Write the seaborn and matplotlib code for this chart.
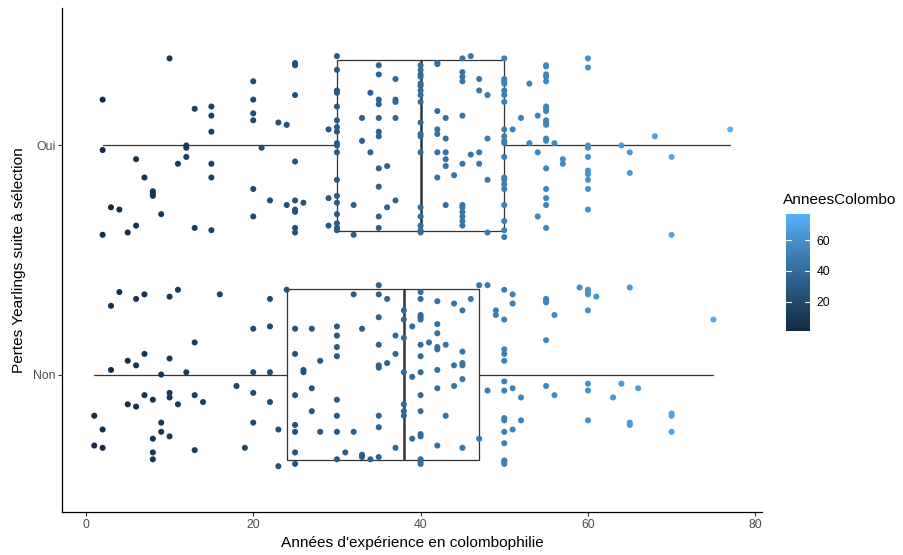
import numpy as np
import pandas as pd
import matplotlib
matplotlib.use("Agg")
import matplotlib.pyplot as plt
import seaborn as sns
from matplotlib.colors import ListedColormap, Normalize
from matplotlib.cm import ScalarMappable

# ---------------- data ----------------
categories = ["Oui", "Non"]

oui_years = [10, 2, 2, 6, 7, 8, 8, 8, 3, 4, 2, 5, 6, 9, 11, 12, 12, 12, 13, 15,
             15, 15, 15, 15, 13, 15, 20, 20, 20, 20, 21, 20, 20, 22, 23, 24, 24, 25, 26, 25,
             25, 25, 25, 25, 25, 25, 25, 29, 29, 29,
             30, 30, 30, 30, 30, 30, 30, 30, 30, 30, 30, 30, 30, 30, 30, 30, 30, 30,
             32, 32, 33, 33, 34, 34,
             35, 35, 35, 35, 35, 35, 35, 35, 35, 35, 35,
             36, 36, 37, 37, 37, 37, 37,
             40, 40, 40, 40, 40, 40, 40, 40, 40, 40, 40, 40, 40, 40, 40, 40, 40, 40,
             42, 42, 42, 42, 42, 42, 42,
             43, 43, 43, 43, 43, 43, 44,
             45, 45, 45, 45, 45, 45, 45, 45, 45, 45, 45, 45,
             46, 46, 47, 47, 47, 47, 48, 48, 48, 48,
             50, 50, 50, 50, 50, 50, 50, 50, 50, 50, 50, 50, 50, 50, 50, 50, 50, 50, 50, 50,
             51, 52, 53, 53, 54, 54, 54,
             55, 55, 55, 55, 55, 55, 55, 55, 55, 55, 55, 55, 55, 55, 55, 55, 55, 55,
             56, 57, 57,
             60, 60, 60, 60, 60, 60, 60, 60, 60, 60,
             64, 65, 65, 68, 70, 70, 77]
oui_jitter = [-0.38, -0.20, 0.02, 0.06, 0.14, 0.20, 0.21, 0.22, 0.27, 0.28,
              0.39, 0.38, 0.35, 0.30, 0.08, 0.00, 0.01, 0.05, -0.16, -0.17,
              -0.13, -0.06, 0.08, 0.14, 0.36, 0.37, -0.28, -0.20, -0.14, -0.11,
              0.01, 0.19, 0.31, 0.24, -0.10, -0.09, 0.26, 0.24, 0.25, 0.28,
              0.29, -0.36, -0.35, -0.22, 0.07, 0.36, 0.38, -0.07, 0.23, 0.35,
              -0.39, -0.33, -0.24, -0.23, -0.17, -0.11, -0.08, -0.06, -0.01, 0.00,
              0.03, 0.15, 0.22, 0.25, 0.30, 0.34, 0.36, 0.37,
              0.26, 0.39, -0.12, -0.02, -0.23, 0.03,
              -0.35, -0.31, -0.20, -0.18, -0.12, -0.06, -0.04, 0.10, 0.18, 0.31, 0.36,
              0.09, 0.27, 0.24, -0.29, -0.20, -0.19, -0.12,
              -0.35, -0.33, -0.31, -0.30, -0.27, -0.26, -0.24, -0.22, -0.19, -0.10,
              -0.05, -0.04, 0.03, 0.27, 0.31, 0.35, 0.37, 0.38,
              -0.36, -0.355, -0.15, -0.07, -0.05, 0.03, 0.14,
              -0.12, -0.03, 0.03, 0.06, 0.09, 0.26, 0.13,
              -0.38, -0.32, -0.30, -0.28, -0.13, 0.08, 0.26, 0.27, 0.29, 0.31, 0.33, 0.35,
              -0.39, 0.04, -0.29, -0.24, 0.03, 0.08, -0.22, -0.03, 0.15, 0.38,
              -0.38, -0.29, -0.28, -0.27, -0.24, -0.22, -0.19, -0.07, -0.04, -0.02,
              -0.01, 0.05, 0.14, 0.15, 0.17, 0.19, 0.26, 0.33, 0.37, 0.40,
              -0.07, -0.12, -0.27, -0.01, -0.13, 0.03, 0.31,
              -0.35, -0.345, -0.31, -0.30, -0.28, -0.17, -0.16, -0.15, -0.11, -0.10,
              -0.09, -0.03, -0.02, 0.10, 0.19, 0.23, 0.26, 0.36,
              -0.01, 0.06, 0.08,
              -0.38, -0.34, 0.00, 0.01, 0.05, 0.11, 0.125, 0.15, 0.19, 0.28,
              0.00, 0.03, 0.12, -0.04, 0.05, 0.39, -0.07]

non_years = [4, 3, 6, 7, 10, 11, 16, 22, 24, 20, 22, 13, 5, 6, 7, 10, 3, 9, 12, 20,
             22, 18, 7, 8, 10, 10, 13, 5, 6, 11, 14, 20, 22, 1, 2, 1, 2, 9, 9, 10,
             8, 8, 8, 13, 19, 20, 23, 23,
             25, 25, 25, 25, 25, 25, 25, 26, 26, 27, 27, 27, 28, 28,
             30, 30, 30, 30, 30, 30, 30, 30, 31, 32, 32, 33, 33, 33, 34,
             35, 35, 35, 35, 35, 35, 35, 35, 35, 36, 36, 37, 37, 37,
             38, 38, 38, 38, 38, 38, 38, 39, 39, 39,
             40, 40, 40, 40, 40, 40, 40, 40, 40, 40, 40, 40, 40, 40, 40,
             41, 42, 42, 42, 42, 42, 42, 42, 42, 43, 43, 44, 44, 44,
             45, 45, 45, 45, 45, 45, 46, 47, 47, 48, 48, 49, 49,
             50, 50, 50, 50, 50, 50, 50, 50, 50, 50, 50, 50, 50, 50,
             51, 51, 51, 51, 52, 52, 55, 55, 55, 55, 55, 56, 56, 59,
             60, 60, 60, 60, 60, 60, 60, 61, 63, 64, 65, 65, 65, 66, 70, 70, 70, 75]
non_jitter = [-0.36, -0.30, -0.33, -0.35, -0.34, -0.37, -0.35, -0.33, -0.37, -0.20,
              -0.21, -0.14, -0.06, -0.04, -0.09, -0.07, -0.02, 0.00, -0.01, -0.01,
              -0.01, 0.05, 0.09, 0.11, 0.08, 0.10, 0.09, 0.13, 0.14, 0.13,
              0.12, 0.08, 0.12, 0.18, 0.24, 0.31, 0.32, 0.21, 0.25, 0.27,
              0.28, 0.34, 0.37, 0.33, 0.32, 0.21, 0.24, 0.40,
              -0.20, -0.09, 0.09, 0.22, 0.25, 0.34, 0.39, -0.02, -0.01, -0.20, 0.06, 0.16,
              -0.06, 0.25,
              -0.21, -0.17, -0.12, -0.08, 0.11, 0.18, 0.25, 0.37, 0.34, -0.35, 0.25,
              -0.20, 0.35, 0.36, 0.37,
              -0.39, -0.35, -0.25, -0.13, -0.04, -0.03, 0.18, 0.23, 0.36, -0.33, -0.05,
              -0.17, -0.09, 0.32,
              -0.28, -0.24, -0.16, -0.01, 0.13, 0.16, 0.18, -0.21, 0.01, 0.28,
              -0.36, -0.33, -0.26, -0.25, -0.24, -0.13, -0.08, -0.01, 0.09, 0.16,
              0.26, 0.27, 0.37, 0.38, 0.39,
              -0.14, -0.32, -0.22, -0.18, -0.12, -0.11, -0.02, 0.06, 0.31, -0.13, 0.18,
              -0.31, -0.04, 0.05,
              -0.28, -0.10, -0.05, -0.04, 0.02, 0.32, -0.33, -0.39, 0.28, -0.39, 0.07,
              -0.28, -0.26,
              -0.37, -0.24, -0.11, -0.09, -0.06, 0.03, 0.07, 0.19, 0.20, 0.25, 0.30,
              0.375, 0.38, 0.39,
              -0.35, -0.31, 0.06, 0.24, 0.10, 0.20, -0.33, -0.32, -0.315, -0.15, 0.05,
              -0.26, 0.09, -0.38,
              -0.37, -0.36, -0.35, -0.28, 0.04, 0.07, 0.20, -0.34, 0.10, 0.04,
              -0.38, 0.21, 0.22, 0.06, 0.17, 0.18, 0.25, -0.24]

# box statistics (Oui, Non)
box_q1 = [30, 24]
box_median = [40, 38]
box_q3 = [50, 47]
box_low = [2, 1]
box_high = [77, 75]

x_ticks = [0, 20, 40, 60, 80]
cbar_ticks = [20, 40, 60]
color_min, color_max = 1, 77

# ---------------- ggplot-like gradient (Lab interpolation) ----------------
_M = np.array([[0.4124564, 0.3575761, 0.1804375],
               [0.2126729, 0.7151522, 0.0721750],
               [0.0193339, 0.1191920, 0.9503041]])
_W = np.array([0.95047, 1.0, 1.08883])


def hex_to_lab(h):
    rgb = np.array([int(h[i:i + 2], 16) / 255 for i in (1, 3, 5)])
    lin = np.where(rgb <= 0.04045, rgb / 12.92, ((rgb + 0.055) / 1.055) ** 2.4)
    xyz = _M @ lin / _W
    d = 6 / 29
    f = np.where(xyz > d ** 3, np.cbrt(xyz), xyz / (3 * d * d) + 4 / 29)
    return np.array([116 * f[1] - 16, 500 * (f[0] - f[1]), 200 * (f[1] - f[2])])


def lab_to_rgb(lab):
    L, a, b = lab
    fy = (L + 16) / 116
    fx = fy + a / 500
    fz = fy - b / 200
    d = 6 / 29
    f = np.array([fx, fy, fz])
    xyz = np.where(f > d, f ** 3, 3 * d * d * (f - 4 / 29)) * _W
    lin = np.linalg.solve(_M, xyz)
    lin = np.clip(lin, 0, 1)
    rgb = np.where(lin <= 0.0031308, 12.92 * lin, 1.055 * lin ** (1 / 2.4) - 0.055)
    return np.clip(rgb, 0, 1)


lab_lo, lab_hi = hex_to_lab("#132B43"), hex_to_lab("#56B1F7")
cmap = ListedColormap([lab_to_rgb(lab_lo + t * (lab_hi - lab_lo))
                       for t in np.linspace(0, 1, 256)])
norm = Normalize(color_min, color_max)

# ---------------- frame ----------------
sns.set_style("ticks")
plt.rcParams["font.family"] = ["Liberation Sans", "DejaVu Sans"]

df = pd.DataFrame({
    "years": oui_years + non_years,
    "group": [categories[0]] * len(oui_years) + [categories[1]] * len(non_years),
    "jitter": oui_jitter + non_jitter,
})
df["ypos"] = df["group"].map({c: i for i, c in enumerate(categories)}) + df["jitter"]

fig = plt.figure(figsize=(9.04, 5.55), dpi=100)
ax = fig.add_axes([0.0691, 0.0775, 0.7738, 0.9081])

stats = [dict(med=box_median[i], q1=box_q1[i], q3=box_q3[i],
              whislo=box_low[i], whishi=box_high[i], fliers=[], label=categories[i])
         for i in range(len(categories))]
ax.bxp(stats, positions=list(range(len(categories))), widths=0.75,
       orientation="horizontal", showfliers=False, showcaps=False,
       patch_artist=True, manage_ticks=False, zorder=1,
       boxprops=dict(facecolor="white", edgecolor="#333333", linewidth=0.9),
       whiskerprops=dict(color="#333333", linewidth=0.9),
       medianprops=dict(color="#333333", linewidth=1.8))

sns.scatterplot(data=df, x="years", y="ypos", hue="years", palette=cmap,
                hue_norm=norm, s=19, linewidth=0, legend=False, ax=ax, zorder=3)

ax.set_xlim(-2.8, 80.8)
ax.set_ylim(1.6, -0.6)
ax.set_xticks(x_ticks)
ax.set_yticks(range(len(categories)))
ax.set_yticklabels(categories)
ax.set_xlabel("")
ax.set_ylabel("")
for s in ["top", "right"]:
    ax.spines[s].set_visible(False)
for s in ["left", "bottom"]:
    ax.spines[s].set_color("black")
    ax.spines[s].set_linewidth(0.9)
ax.tick_params(axis="both", length=2.7, width=0.8, color="#333333",
               labelcolor="#4D4D4D", labelsize=8.8, pad=2.2)

fig.text(412 / 904, 1 - 543 / 555, "Années d'expérience en colombophilie",
         ha="center", va="center", fontsize=11.1, color="black")
fig.text(19 / 904, 1 - 260 / 555, "Pertes Yearlings suite à sélection",
         ha="center", va="center", rotation=90, fontsize=11.1, color="black")

# ---------------- colour bar legend ----------------
cax = fig.add_axes([785.7 / 904, 1 - 330.7 / 555, 24.3 / 904, 116.7 / 555])
cb = fig.colorbar(ScalarMappable(norm=norm, cmap=cmap), cax=cax, ticks=cbar_ticks)
cb.outline.set_visible(False)
cax.tick_params(length=0, labelsize=8.8, labelcolor="black", pad=4.8)
for t in cbar_ticks:
    cax.plot([0, 0.2], [t, t], color="white", lw=0.8, transform=cax.get_yaxis_transform())
    cax.plot([0.8, 1], [t, t], color="white", lw=0.8, transform=cax.get_yaxis_transform())
fig.text(783 / 904, 1 - 200 / 555, "AnneesColombo", ha="left", va="center",
         fontsize=11.1, color="black")

fig.savefig("out.png", dpi=100)
